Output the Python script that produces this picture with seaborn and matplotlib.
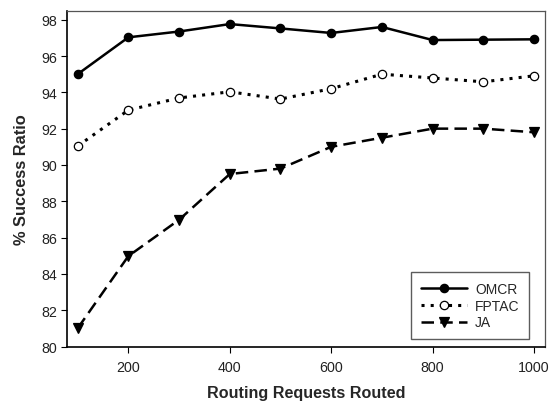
import numpy as np
import pandas as pd
import matplotlib
matplotlib.use("Agg")
import matplotlib.pyplot as plt
import seaborn as sns

requests = [100, 200, 300, 400, 500, 600, 700, 800, 900, 1000]
omcr = [95.0, 97.03, 97.35, 97.76, 97.52, 97.27, 97.6, 96.88, 96.9, 96.92]
fptac = [91.04, 93.02, 93.69, 94.03, 93.63, 94.2, 95.0, 94.79, 94.58, 94.91]
ja = [81.0, 84.98, 86.98, 89.5, 89.8, 91.0, 91.5, 92.0, 92.0, 91.8]
series_names = ["OMCR", "FPTAC", "JA"]
x_ticks = [200, 400, 600, 800, 1000]
y_ticks = [80, 82, 84, 86, 88, 90, 92, 94, 96, 98]

sns.set_theme(style="white")
plt.rcParams['font.family'] = ['Liberation Sans', 'DejaVu Sans']

fig = plt.figure(figsize=(5.5, 4.02), dpi=100)
ax = fig.add_axes([66.7/550, 1 - 347.5/402, (545 - 66.7)/550, (347.5 - 12)/402])

styles = [
    dict(linestyle='-', marker='o', markerfacecolor='black', lw=1.8, ms=6.0),
    dict(linestyle=(0, (1, 2.0)), marker='o', markerfacecolor='white', lw=2.2, ms=6.0),
    dict(linestyle=(0, (5, 2.5)), marker='v', markerfacecolor='black', lw=1.8, ms=7.0),
]
for name, vals, st in zip(series_names, [omcr, fptac, ja], styles):
    df = pd.DataFrame({"x": requests, "y": vals})
    sns.lineplot(data=df, x="x", y="y", ax=ax, color='black', label=name,
                 linestyle=st['linestyle'], linewidth=st['lw'], marker=st['marker'],
                 markersize=st['ms'], markerfacecolor=st['markerfacecolor'],
                 markeredgecolor='black', markeredgewidth=0.9)

ax.set_xlim(78.4, 1021.6)
ax.set_ylim(80, 98.48)
ax.set_xticks(x_ticks)
ax.set_yticks(y_ticks)
ax.tick_params(axis='both', which='both', direction='out', length=4, width=0.8,
               labelsize=10.3, color='black', labelcolor='#222222', pad=3,
               bottom=True, left=True, top=False, right=False)
ax.tick_params(axis='x', pad=6)
for s in ['left', 'bottom']:
    ax.spines[s].set_color('black')
    ax.spines[s].set_linewidth(1.2)
for s in ['top', 'right']:
    ax.spines[s].set_color('#555555')
    ax.spines[s].set_linewidth(0.9)

ax.set_xlabel("Routing Requests Routed", fontsize=11.6, fontweight='bold', labelpad=8)
ax.set_ylabel("% Success Ratio", fontsize=11.8, fontweight='bold', labelpad=9)

leg = ax.legend(loc='lower right', fontsize=10, frameon=True, fancybox=False,
                edgecolor='#333333', handlelength=3.3, borderpad=0.7,
                labelspacing=0.2, handletextpad=0.6, borderaxespad=0,
                bbox_to_anchor=(0.967, 0.022))
leg.get_frame().set_linewidth(1.0)

fig.savefig("out.png", dpi=100)
